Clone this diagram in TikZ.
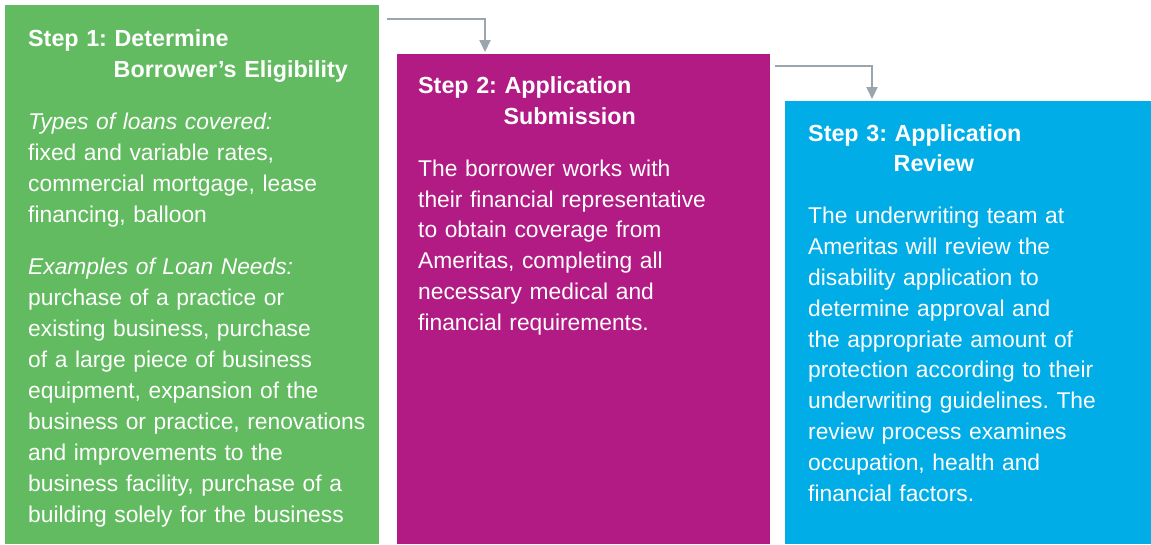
\documentclass[tikz,border=0pt]{standalone}
\usepackage{fontspec}
\setmainfont{Liberation Sans}
\usetikzlibrary{arrows.meta}
\definecolor{stepgreen}{HTML}{62BB60}
\definecolor{stepmagenta}{HTML}{B31B84}
\definecolor{stepblue}{HTML}{00ADE7}
\definecolor{arrowgray}{HTML}{9BA5AD}
\newcommand{\stephead}[2]{{\fontsize{23.3}{30.8}\selectfont\bfseries #1\\\hspace*{85.5pt}#2}}
\begin{document}
\frenchspacing
\begin{tikzpicture}[x=1pt,y=-1pt,
  stepbox/.style={rectangle, draw=none, inner sep=0pt, anchor=north west},
  steptext/.style={anchor=base west, inner sep=0pt, text=white, align=left,
    font=\frenchspacing\fontsize{22.8}{30.8}\selectfont},
  conn/.style={draw=arrowgray, line width=2pt, -{Triangle[width=11pt,length=12pt]}}]
\useasboundingbox (0,0) rectangle (1151,544);
\fill[white] (0,0) rectangle (1151,544);
% boxes
\node[stepbox, fill=stepgreen, minimum width=374pt, minimum height=539pt] (b1) at (5,5) {};
\node[stepbox, fill=stepmagenta, minimum width=373pt, minimum height=490pt] (b2) at (397,54) {};
\node[stepbox, fill=stepblue, minimum width=366pt, minimum height=443pt] (b3) at (785,101) {};
% texts
\node[steptext, text width=348pt, font=\frenchspacing\fontsize{22.8}{31}\selectfont] (t1) at (28,46) {\stephead{Step 1: Determine}{Borrower’s Eligibility}\\[21.2pt]
\textit{Types of loans covered:}\\
fixed and variable rates,\\
commercial mortgage, lease\\
financing, balloon\\[21.2pt]
\textit{Examples of Loan Needs:}\\
purchase of a practice or\\
existing business, purchase\\
of a large piece of business\\
equipment, expansion of the\\
business or practice, renovations\\
and improvements to the\\
business facility, purchase of a\\
building solely for the business};
\node[steptext, text width=348pt] (t2) at (418,93.5) {\stephead{Step 2: Application}{Submission}\\[21.2pt]
The borrower works with\\
their financial representative\\
to obtain coverage from\\
Ameritas, completing all\\
necessary medical and\\
financial requirements.};
\node[steptext, text width=340pt] (t3) at (808,141) {\stephead{Step 3: Application}{Review}\\[21.2pt]
The underwriting team at\\
Ameritas will review the\\
disability application to\\
determine approval and\\
the appropriate amount of\\
protection according to their\\
underwriting guidelines. The\\
review process examines\\
occupation, health and\\
financial factors.};
% connectors
\coordinate (s1) at ([xshift=8pt,yshift=-14pt]b1.north east);
\coordinate (s2) at ([xshift=5pt,yshift=-12pt]b2.north east);
\draw[conn] (s1) -| ([xshift=88pt,yshift=2pt]b2.north west);
\draw[conn] (s2) -| ([xshift=87pt,yshift=2pt]b3.north west);
\end{tikzpicture}
\end{document}
